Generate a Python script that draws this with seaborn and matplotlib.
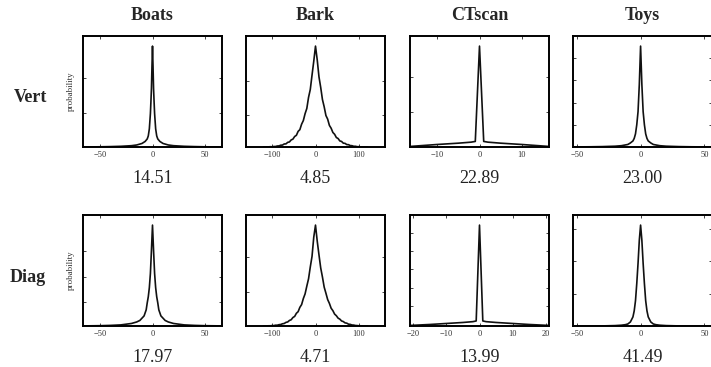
import numpy as np
import pandas as pd
import seaborn as sns
import matplotlib.pyplot as plt

# Datos (probabilidad relativa al pico).
columnas = ['Boats', 'Bark', 'CTscan', 'Toys']
filas = ['Vert', 'Diag']
valores = [['14.51', '4.85', '22.89', '23.00'],
           ['17.97', '4.71', '13.99', '41.49']]

boats_vert_x = [-66, -50, -40, -30, -20, -15, -10, -7, -5, -4, -3, -2, -1.5, -1, -0.5, 0,
                0.5, 1, 1.5, 2, 3, 4, 5, 7, 10, 15, 20, 30, 40, 50, 66]
boats_vert_y = [0.0005, 0.002, 0.004, 0.007, 0.013, 0.02, 0.035, 0.055, 0.08, 0.11, 0.18, 0.33, 0.45, 0.58, 0.8, 1.0,
                0.8, 0.58, 0.45, 0.33, 0.18, 0.11, 0.08, 0.055, 0.035, 0.02, 0.013, 0.007, 0.004, 0.002, 0.0005]

boats_diag_x = [-66, -50, -40, -30, -20, -15, -12, -8, -6, -5, -4, -3, -2, -1, 0,
                1, 2, 3, 4, 5, 6, 8, 12, 15, 20, 30, 40, 50, 66]
boats_diag_y = [0.001, 0.003, 0.006, 0.011, 0.025, 0.04, 0.055, 0.1, 0.16, 0.23, 0.29, 0.38, 0.52, 0.75, 1.0,
                0.75, 0.52, 0.38, 0.29, 0.23, 0.16, 0.1, 0.055, 0.04, 0.025, 0.011, 0.006, 0.003, 0.001]

bark_x = list(range(-120, 121, 4))
bark_vert_y = [0, 0, 0.001, 0.001, 0.003, 0.002, 0.005, 0.005, 0.010, 0.011, 0.018, 0.019, 0.030, 0.031,
               0.046, 0.050, 0.070, 0.078, 0.104, 0.116, 0.155, 0.172, 0.226, 0.262, 0.330, 0.382, 0.492,
               0.570, 0.712, 0.850, 1.000, 0.862, 0.695, 0.590, 0.470, 0.398, 0.312, 0.276, 0.214, 0.186,
               0.144, 0.126, 0.094, 0.084, 0.060, 0.055, 0.038, 0.036, 0.024, 0.023, 0.014, 0.013, 0.007,
               0.007, 0.003, 0.003, 0.001, 0.001, 0, 0, 0]
bark_diag_y = [0, 0.001, 0, 0.002, 0.002, 0.004, 0.004, 0.008, 0.008, 0.013, 0.015, 0.022, 0.025, 0.036,
               0.040, 0.055, 0.062, 0.084, 0.095, 0.126, 0.142, 0.185, 0.212, 0.272, 0.318, 0.395, 0.468,
               0.585, 0.690, 0.880, 1.000, 0.840, 0.705, 0.575, 0.485, 0.385, 0.325, 0.262, 0.224, 0.176,
               0.152, 0.118, 0.102, 0.078, 0.068, 0.050, 0.044, 0.031, 0.028, 0.018, 0.016, 0.010, 0.009,
               0.005, 0.004, 0.002, 0.002, 0.001, 0, 0, 0]

ct_vert_x = [-17, -10, -5, -2, -1, 0, 1, 2, 5, 10, 17]
ct_vert_y = [0.004, 0.025, 0.038, 0.048, 0.055, 1.0, 0.055, 0.048, 0.038, 0.025, 0.004]

ct_diag_x = [-22, -15, -10, -5, -2, -1, 0, 1, 2, 5, 10, 15, 22]
ct_diag_y = [0.004, 0.015, 0.025, 0.035, 0.043, 0.05, 1.0, 0.05, 0.043, 0.035, 0.025, 0.015, 0.004]

toys_vert_x = [-56, -40, -30, -20, -15, -10, -8, -6, -5, -4, -3, -2, -1, 0,
               1, 2, 3, 4, 5, 6, 8, 10, 15, 20, 30, 40, 56]
toys_vert_y = [0.0005, 0.002, 0.004, 0.008, 0.013, 0.025, 0.04, 0.06, 0.085, 0.13, 0.22, 0.35, 0.62, 1.0,
               0.62, 0.35, 0.22, 0.13, 0.085, 0.06, 0.04, 0.025, 0.013, 0.008, 0.004, 0.002, 0.0005]

toys_diag_x = [-56, -30, -20, -15, -12, -10, -8, -6, -5, -4, -3, -2, -1, 0,
               1, 2, 3, 4, 5, 6, 8, 10, 12, 15, 20, 30, 56]
toys_diag_y = [0, 0.001, 0.004, 0.008, 0.013, 0.02, 0.04, 0.09, 0.15, 0.25, 0.42, 0.62, 0.85, 1.0,
               0.85, 0.62, 0.42, 0.25, 0.15, 0.09, 0.04, 0.02, 0.013, 0.008, 0.004, 0.001, 0]

curvas = [[(boats_vert_x, boats_vert_y), (bark_x, bark_vert_y), (ct_vert_x, ct_vert_y), (toys_vert_x, toys_vert_y)],
          [(boats_diag_x, boats_diag_y), (bark_x, bark_diag_y), (ct_diag_x, ct_diag_y), (toys_diag_x, toys_diag_y)]]

# Ejes: limites, ticks y estilo de cada panel.
limites_x = [[(-66, 66), (-160, 160), (-16.5, 16.5), (-53, 56)],
             [(-66, 66), (-160, 160), (-21, 21), (-53, 56)]]
ticks_x = [[[-50, 0, 50], [-100, 0, 100], [-10, 0, 10], [-50, 0, 50]],
           [[-50, 0, 50], [-100, 0, 100], [-20, -10, 0, 10, 20], [-50, 0, 50]]]
ticks_y = [[[0.34, 0.68], [0.32, 0.65], [0.35, 0.69], [0.22, 0.44, 0.66, 0.88]],
           [[0.24, 0.49, 0.74], [0.34, 0.68], [0.2, 0.38, 0.56, 0.74, 0.92], [0.32, 0.64, 0.96]]]

sns.set_style('ticks')
plt.rcParams['font.family'] = ['Liberation Serif', 'DejaVu Serif']

fig = plt.figure(figsize=(7.11, 3.67), dpi=100)
W, H = 711, 367
izq_px = [83, 246, 410, 573]
arriba_px = [36, 215]
ancho_px, alto_px = 139, 111

for i in range(2):
    for j in range(4):
        ax = fig.add_axes([izq_px[j] / W, 1 - (arriba_px[i] + alto_px) / H, ancho_px / W, alto_px / H])
        x, y = curvas[i][j]
        datos = pd.DataFrame({'x': x, 'y': y})
        sns.lineplot(data=datos, x='x', y='y', ax=ax, color='#111111', linewidth=1.2, sort=True)
        ax.set_xlim(*limites_x[i][j])
        ax.set_ylim(0, 1.1)
        ax.set_xticks(ticks_x[i][j])
        ax.set_xticklabels(['\u2212' + str(-t) if t < 0 else str(t) for t in ticks_x[i][j]])
        ax.set_yticks(ticks_y[i][j])
        ax.set_yticklabels([])
        ax.tick_params(direction='in', top=True, right=True, length=2.5, width=0.6,
                       labelsize=6, labelcolor='#333333', pad=3)
        for lado in ax.spines.values():
            lado.set_linewidth(1.4)
            lado.set_color('black')
        ax.set_xlabel('')
        if j == 0:
            ax.set_ylabel('probability', fontsize=6.5, color='#333333', labelpad=3)
        else:
            ax.set_ylabel('')
        centro = (izq_px[j] + ancho_px / 2) / W
        fig.text(centro, 1 - (arriba_px[i] + alto_px + 31) / H, valores[i][j],
                 ha='center', va='center', fontsize=13, color='#222222')
        if i == 0:
            fig.text(centro, 1 - 15 / H, columnas[j], ha='center', va='center',
                     fontsize=13, fontweight='bold')

fig.text(30 / W, 1 - 98 / H, filas[0], ha='center', va='center', fontsize=13, fontweight='bold')
fig.text(28 / W, 1 - 277 / H, filas[1], ha='center', va='center', fontsize=13, fontweight='bold')

fig.savefig('out.png', dpi=100)
